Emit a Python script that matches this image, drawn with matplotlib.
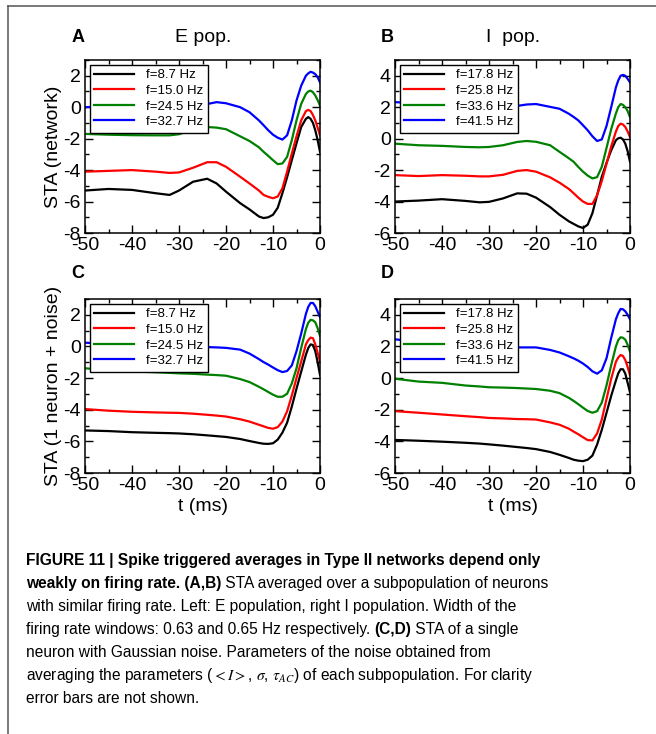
import numpy as np
import matplotlib
matplotlib.use("Agg")
import matplotlib.pyplot as plt
from matplotlib.ticker import MultipleLocator
from matplotlib.lines import Line2D

plt.rcParams['font.family'] = ['Liberation Sans', 'DejaVu Sans']
plt.rcParams['mathtext.fontset'] = 'stix'
plt.rcParams['axes.unicode_minus'] = False

# time axis (ms), shared by all panels
t = [-50, -45, -40, -35, -32, -30, -27, -24, -22, -20, -17, -15, -13, -12, -11,
     -10, -9, -8, -7, -6, -5, -4, -3, -2.5, -2, -1.5, -1, -0.5, 0]

colors = ['black', 'red', 'green', 'blue']
labels_e = ['f=8.7 Hz', 'f=15.0 Hz', 'f=24.5 Hz', 'f=32.7 Hz']
labels_i = ['f=17.8 Hz', 'f=25.8 Hz', 'f=33.6 Hz', 'f=41.5 Hz']

# A: network, E population
a_black = [-5.3, -5.2, -5.26, -5.47, -5.58, -5.3, -4.74, -4.55, -4.85, -5.37, -6.1, -6.5, -6.95, -7.05, -7.0,
           -6.84, -6.4, -5.47, -4.45, -3.37, -2.3, -1.26, -0.74, -0.63, -0.74, -1.0, -1.47, -2.1, -2.84]
a_red = [-4.1, -4.05, -4.0, -4.1, -4.18, -4.15, -3.85, -3.5, -3.5, -3.79, -4.42, -4.85, -5.3, -5.58, -5.7,
         -5.79, -5.68, -5.16, -4.1, -2.95, -1.85, -0.84, -0.25, -0.17, -0.25, -0.5, -0.84, -1.3, -1.79]
a_green = [-1.7, -1.75, -1.78, -1.79, -1.79, -1.72, -1.43, -1.26, -1.3, -1.4, -1.85, -2.15, -2.55, -2.84, -3.1,
           -3.37, -3.62, -3.58, -3.16, -2.1, -0.84, 0.21, 0.84, 1.0, 1.05, 0.95, 0.74, 0.45, 0.1]
a_blue = [0.0, 0.05, 0.1, 0.1, 0.1, 0.15, 0.2, 0.2, 0.32, 0.25, 0.0, -0.32, -0.84, -1.15, -1.47,
          -1.75, -1.94, -2.06, -1.79, -0.84, 0.42, 1.37, 2.0, 2.15, 2.25, 2.2, 2.1, 1.9, 1.58]

# B: network, I population
b_black = [-4.0, -3.94, -3.85, -3.96, -4.05, -4.02, -3.8, -3.48, -3.5, -3.75, -4.35, -4.84, -5.26, -5.42, -5.58,
           -5.68, -5.47, -4.74, -3.6, -2.42, -1.55, -0.74, -0.1, 0.02, 0.06, -0.05, -0.32, -0.8, -1.47]
b_red = [-2.32, -2.38, -2.32, -2.36, -2.4, -2.4, -2.3, -2.05, -2.0, -2.1, -2.46, -2.8, -3.2, -3.47, -3.75,
         -4.0, -4.15, -4.15, -3.6, -2.7, -1.6, -0.5, 0.45, 0.8, 0.95, 0.9, 0.74, 0.45, 0.1]
b_green = [-0.32, -0.42, -0.46, -0.53, -0.55, -0.53, -0.42, -0.21, -0.15, -0.2, -0.42, -0.84, -1.25, -1.47, -1.8,
           -2.1, -2.35, -2.53, -2.45, -1.79, -0.6, 0.6, 1.6, 2.0, 2.2, 2.15, 2.0, 1.75, 1.37]
b_blue = [2.32, 2.25, 2.2, 2.15, 2.1, 2.08, 2.05, 2.08, 2.17, 2.2, 2.02, 1.9, 1.58, 1.38, 1.16,
          0.85, 0.53, 0.15, -0.15, -0.05, 0.8, 2.0, 3.26, 3.7, 4.0, 4.05, 4.0, 3.8, 3.58]

# C: single neuron + noise, E rates
c_black = [-5.31, -5.35, -5.42, -5.46, -5.48, -5.5, -5.55, -5.62, -5.67, -5.72, -5.85, -5.98, -6.1, -6.15, -6.16,
           -6.12, -5.89, -5.45, -4.82, -3.8, -2.67, -1.59, -0.52, -0.1, 0.13, 0.09, -0.3, -1.0, -1.8]
c_red = [-3.96, -4.06, -4.13, -4.17, -4.19, -4.2, -4.25, -4.32, -4.37, -4.43, -4.6, -4.75, -4.95, -5.05, -5.15,
         -5.2, -5.1, -4.75, -4.1, -3.1, -2.0, -0.95, 0.13, 0.4, 0.56, 0.52, 0.13, -0.4, -0.95]
c_green = [-1.38, -1.5, -1.58, -1.63, -1.67, -1.7, -1.73, -1.78, -1.81, -1.85, -2.06, -2.25, -2.55, -2.71, -2.88,
           -3.05, -3.18, -3.18, -2.99, -2.34, -1.38, -0.09, 1.1, 1.5, 1.68, 1.65, 1.53, 1.15, 0.67]
c_blue = [0.24, 0.15, 0.1, 0.05, 0.03, 0.0, -0.02, -0.04, -0.06, -0.09, -0.2, -0.45, -0.8, -0.99, -1.15,
          -1.33, -1.5, -1.62, -1.55, -1.2, -0.3, 0.82, 2.06, 2.5, 2.75, 2.75, 2.54, 2.2, 1.85]

# D: single neuron + noise, I rates
d_black = [-3.91, -3.96, -4.02, -4.09, -4.14, -4.19, -4.27, -4.36, -4.42, -4.49, -4.67, -4.85, -5.05, -5.16, -5.22,
           -5.25, -5.16, -4.9, -4.2, -3.27, -2.2, -1.12, -0.15, 0.3, 0.56, 0.56, 0.28, -0.3, -0.9]
d_red = [-2.09, -2.19, -2.3, -2.41, -2.47, -2.52, -2.55, -2.59, -2.6, -2.62, -2.8, -2.95, -3.2, -3.38, -3.55,
         -3.74, -3.92, -3.94, -3.5, -2.62, -1.33, -0.04, 1.03, 1.3, 1.46, 1.4, 1.14, 0.7, 0.17]
d_green = [-0.04, -0.22, -0.3, -0.47, -0.53, -0.58, -0.6, -0.63, -0.66, -0.69, -0.8, -0.95, -1.25, -1.44, -1.65,
           -1.87, -2.08, -2.19, -2.09, -1.55, -0.47, 0.82, 2.0, 2.4, 2.58, 2.55, 2.43, 2.1, 1.68]
d_blue = [2.45, 2.3, 2.2, 2.1, 2.05, 2.02, 1.98, 1.94, 1.94, 1.94, 1.78, 1.62, 1.38, 1.25, 1.1,
          0.92, 0.7, 0.43, 0.28, 0.49, 1.25, 2.54, 3.72, 4.1, 4.37, 4.35, 4.22, 4.0, 3.72]

W, H = 656, 734
fig = plt.figure(figsize=(W / 100, H / 100), dpi=100)
FS = 14


def add_axes(left, top, right, bottom):
    return fig.add_axes([left / W, 1 - bottom / H, (right - left) / W, (bottom - top) / H])


def draw_panel(ax, series, labels, ylim):
    for vals, c, lab in zip(series, colors, labels):
        ax.plot(t, vals, color=c, lw=1.6, label=lab)
    ax.set_xlim(-50, 0)
    ax.set_ylim(*ylim)
    ax.xaxis.set_major_locator(MultipleLocator(10))
    ax.xaxis.set_minor_locator(MultipleLocator(5))
    ax.yaxis.set_major_locator(MultipleLocator(2))
    ax.yaxis.set_minor_locator(MultipleLocator(1))
    ax.tick_params(which='both', direction='in', top=True, right=True, labelsize=FS)
    ax.tick_params(axis='x', pad=3)
    ax.tick_params(axis='y', pad=3)
    ax.tick_params(which='major', length=6, width=1)
    ax.tick_params(which='minor', length=3, width=1)
    for s in ax.spines.values():
        s.set_linewidth(1.1)
    leg = ax.legend(loc='upper left', fontsize=9.5, frameon=True, fancybox=False,
                    borderaxespad=0.35, handlelength=3.0, handletextpad=0.9,
                    labelspacing=0.25, borderpad=0.35)
    leg.get_frame().set_edgecolor('black')
    leg.get_frame().set_linewidth(1.0)
    leg.get_frame().set_alpha(1)


ax_a = add_axes(85, 60, 320, 233)
ax_b = add_axes(395, 60, 630, 233)
ax_c = add_axes(85, 299, 320, 473)
ax_d = add_axes(395, 299, 630, 473)

draw_panel(ax_a, [a_black, a_red, a_green, a_blue], labels_e, (-8, 3))
draw_panel(ax_b, [b_black, b_red, b_green, b_blue], labels_i, (-6, 5))
draw_panel(ax_c, [c_black, c_red, c_green, c_blue], labels_e, (-8, 3))
draw_panel(ax_d, [d_black, d_red, d_green, d_blue], labels_i, (-6, 5))

ax_a.set_ylabel('STA (network)', fontsize=FS, labelpad=1)
ax_c.set_ylabel('STA (1 neuron + noise)', fontsize=FS, labelpad=1)
ax_c.set_xlabel('t (ms)', fontsize=FS, labelpad=3)
ax_d.set_xlabel('t (ms)', fontsize=FS, labelpad=3)

# panel letters and titles
for x, y, s in [(78, 37, 'A'), (387, 37, 'B'), (78, 273, 'C'), (387, 273, 'D')]:
    fig.text(x / W, 1 - y / H, s, fontsize=13, fontweight='bold', ha='center', va='center')
fig.text(203 / W, 1 - 37 / H, 'E pop.', fontsize=FS, ha='center', va='center')
fig.text(513 / W, 1 - 37 / H, 'I  pop.', fontsize=FS, ha='center', va='center')

# frame lines around the figure box
fig.add_artist(Line2D([8 / W, 8 / W], [0, 1 - 6 / H], color='#555555', lw=1.1))
fig.add_artist(Line2D([8 / W, 1], [1 - 6 / H, 1 - 6 / H], color='#555555', lw=1.1))

# caption
cap_font = ['Liberation Sans', 'DejaVu Sans']
cap_size = 11.2
cap_lines = [
    [("FIGURE 11 | Spike triggered averages in Type II networks depend only", 'bold')],
    [("weakly on firing rate. (A,B)", 'bold'), (" STA averaged over a subpopulation of neurons", 'normal')],
    [("with similar firing rate. Left: E population, right I population. Width of the", 'normal')],
    [("firing rate windows: 0.63 and 0.65 Hz respectively. ", 'normal'), ("(C,D)", 'bold'),
     (" STA of a single", 'normal')],
    [("neuron with Gaussian noise. Parameters of the noise obtained from", 'normal')],
    [(r"averaging the parameters ($<I>$, $\sigma$, $\tau_{AC}$) of each subpopulation. For clarity", 'normal')],
    [("error bars are not shown.", 'normal')],
]
y0 = 565
for i, parts in enumerate(cap_lines):
    yb = 1 - (y0 + 23 * i) / H
    prev = None
    for txt, wt in parts:
        if prev is None:
            prev = fig.text(26 / W, yb, txt, fontsize=cap_size, fontweight=wt,
                            family=cap_font, ha='left', va='baseline')
        else:
            prev = fig.add_artist(matplotlib.text.Annotation(
                txt, xy=(1, yb), xycoords=(prev, 'figure fraction'),
                fontsize=cap_size, fontweight=wt, family=cap_font,
                ha='left', va='baseline', annotation_clip=False))

fig.savefig('out.png', dpi=100)
